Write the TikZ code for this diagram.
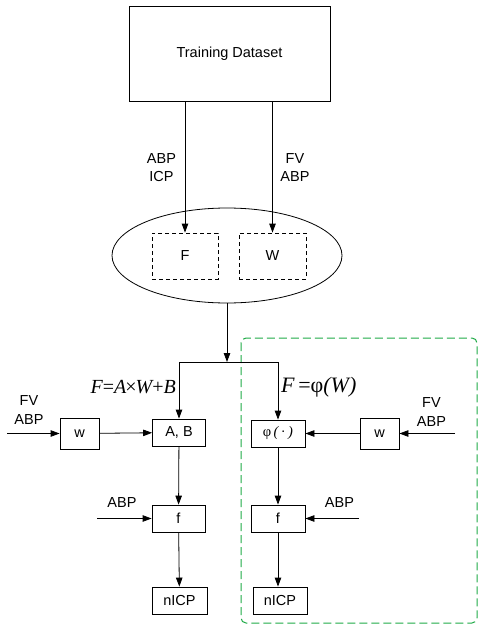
\documentclass[tikz,border=0pt]{standalone}
\usepackage{fontspec}
\setmainfont{Liberation Sans}
\newfontfamily\tms{Liberation Serif}
\usetikzlibrary{arrows.meta,shapes.geometric}
\definecolor{dgreen}{RGB}{30,170,70}
\newcommand{\iv}[1]{{\itshape #1}}
\begin{document}
\begin{tikzpicture}[x=1pt,y=-1pt,
  every node/.style={font=\fontsize{14.5}{18.5}\selectfont, inner sep=0pt},
  box/.style={draw, line width=0.8pt, minimum width=#1, minimum height=27pt},
  dbox/.style={draw, dashed, dash pattern=on 4pt off 3pt, line width=0.8pt, minimum width=66pt, minimum height=46pt},
  arr/.style={line width=0.8pt, -{Triangle[length=9pt,width=6.5pt]}},
  ln/.style={line width=0.8pt},
  lbl/.style={align=center},
  mth/.style={font=\tms\fontsize{20}{20}\selectfont}
]
\useasboundingbox (0,0) rectangle (486,634);
% top
\node[draw, line width=0.8pt, minimum width=201pt, minimum height=95pt] (td) at (229.5,53.5) {Training Dataset};
\node[draw, ellipse, line width=0.8pt, minimum width=230pt, minimum height=95pt] (ell) at (227,255.5) {};
\node[dbox] (F) at (185,256) {F};
\node[dbox, minimum width=67pt] (W) at (272.5,256) {W};
\draw[arr] (F.north |- td.south) -- (F.north);
\draw[arr] (W.north |- td.south) -- (W.north);
\node[lbl] (l1) at (161.5,167.5) {ABP\\ICP};
\node[lbl] (l2) at (295,167.5) {FV\\ABP};
% green region
\draw[dgreen, line width=1pt, dash pattern=on 8pt off 4pt, rounded corners=5pt] (241,338) rectangle (477,623);
% lower boxes
\node[box=53pt] (AB) at (179,432.5) {A, B};
\node[box=54pt] (phi) at (278,433.5) {\tms φ\,\iv{(}\,·\,\iv{)}};
\node[box=39pt, minimum height=31pt] (w1) at (79.5,433.5) {w};
\node[box=39pt, minimum height=31pt] (w2) at (379.5,433.5) {w};
\node[box=53pt] (f1) at (178.5,518.5) {f};
\node[box=54pt] (f2) at (278,518.5) {f};
\node[box=55pt] (n1) at (179.5,600.5) {nICP};
\node[box=54pt] (n2) at (280,600.5) {nICP};
% split
\coordinate (jl) at (179,362);
\coordinate (jr) at (278,362);
\draw[arr] (ell.south) -- (ell.south |- jl);
\draw[ln] (jl) -- (jr);
\draw[arr] (jl) -- (AB.north);
\draw[arr] (jr) -- (phi.north);
\node[mth, anchor=east] (e1) at (176,387) {\iv{F}=\iv{A}\kern-1pt×\kern-1pt\iv{W}+\iv{B}};
\node[mth, anchor=west, font=\tms\fontsize{22}{22}\selectfont] (e2) at (281,387) {\iv{F}\,=φ\iv{(W)}};
% left chain
\coordinate (in1) at (7,433.5);
\draw[arr] (in1) -- (w1.west);
\node[lbl] (l3) at (29,410) {FV\\ABP};
\draw[arr] (w1) -- (AB);
\draw[arr] (AB) -- (f1);
\draw[arr] (f1) -- (n1);
\coordinate (in2) at (97,518.5);
\draw[arr] (in2) -- (f1.west);
\node (l4) at (122,503) {ABP};
% right chain
\coordinate (in3) at (455,433.5);
\draw[arr] (in3) -- (w2.east);
\node[lbl] (l5) at (431.5,412) {FV\\ABP};
\draw[arr] (w2) -- (phi);
\draw[arr] (phi) -- (f2);
\draw[arr] (f2.south) -- (f2.south |- n2.north);
\coordinate (in4) at (359,518.5);
\draw[arr] (in4) -- (f2.east);
\node (l6) at (339.5,503) {ABP};
\end{tikzpicture}
\end{document}
